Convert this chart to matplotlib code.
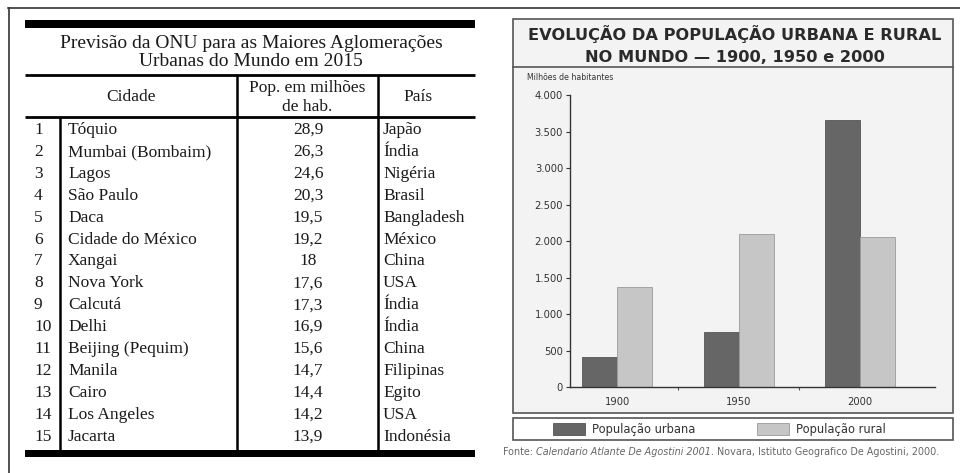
import numpy as np
import matplotlib.pyplot as plt
from matplotlib.patches import Rectangle, Patch

W, H = 960, 473

### dados da tabela
posicao = list(range(1, 16))
cidades = ["Tóquio", "Mumbai (Bombaim)", "Lagos", "São Paulo", "Daca",
           "Cidade do México", "Xangai", "Nova York", "Calcutá", "Delhi",
           "Beijing (Pequim)", "Manila", "Cairo", "Los Angeles", "Jacarta"]
populacao = [28.9, 26.3, 24.6, 20.3, 19.5, 19.2, 18, 17.6, 17.3, 16.9,
             15.6, 14.7, 14.4, 14.2, 13.9]
paises = ["Japão", "Índia", "Nigéria", "Brasil", "Bangladesh", "México",
          "China", "USA", "Índia", "Índia", "China", "Filipinas", "Egito",
          "USA", "Indonésia"]

### dados do grafico
anos = ["1900", "1950", "2000"]
urbana = [410, 750, 3660]
rural = [1370, 2090, 2060]
yticks = [0, 500, 1000, 1500, 2000, 2500, 3000, 3500, 4000]
ytick_labels = ["0", "500", "1.000", "1.500", "2.000", "2.500", "3.000", "3.500", "4.000"]
series = ["População urbana", "População rural"]

SERIF = "Liberation Serif"
SANS = "DejaVu Sans"
COR_URB = "#666666"
COR_RUR = "#c6c6c6"


def px(x, y):
    # pixel -> fracao da figura
    return x / W, 1 - y / H


def draw_table(bg):
    k = dict(color="black", solid_capstyle="butt")
    # moldura externa
    bg.plot([8, 960], [8, 8], color="#333333", lw=1.2)
    bg.plot([9, 9], [8, 473], color="#333333", lw=1.2)

    bg.add_patch(Rectangle((25, 20), 450, 8, color="black", lw=0))
    bg.add_patch(Rectangle((25, 450), 450, 7, color="black", lw=0))
    bg.plot([25, 475], [75, 75], lw=2.0, **k)
    bg.plot([25, 475], [117, 117], lw=2.0, **k)
    bg.plot([60, 60], [117, 450], lw=1.8, **k)
    bg.plot([237, 237], [75, 450], lw=1.8, **k)
    bg.plot([378, 378], [75, 450], lw=1.8, **k)

    tk = dict(family=SERIF, color="#1a1a1a", fontsize=12.5)
    tt = dict(tk, fontsize=14)
    bg.text(251, 43, "Previsão da ONU para as Maiores Aglomerações", ha="center", va="center", **tt)
    bg.text(251, 62, "Urbanas do Mundo em 2015", ha="center", va="center", **tt)
    bg.text(131, 97, "Cidade", ha="center", va="center", **tk)
    bg.text(307, 88, "Pop. em milhões", ha="center", va="center", **tk)
    bg.text(307, 107, "de hab.", ha="center", va="center", **tk)
    bg.text(418, 97, "País", ha="center", va="center", **tk)

    for i, (n, c, p, pais) in enumerate(zip(posicao, cidades, populacao, paises)):
        y = 130 + i * 21.9
        bg.text(34, y, str(n), ha="left", va="center", **tk)
        bg.text(68, y, c, ha="left", va="center", **tk)
        bg.text(308, y, f"{p:g}".replace(".", ","), ha="center", va="center", **tk)
        bg.text(383, y, pais, ha="left", va="center", **tk)


def draw_chart(fig, bg):
    # painel
    bg.add_patch(Rectangle((513, 19), 440, 394, facecolor="#f3f3f3", edgecolor="#555555", lw=1.2))
    bg.plot([513, 953], [67, 67], color="#555555", lw=1.2)
    tt = dict(family=SANS, fontweight="bold", fontsize=11.7, color="#2a2a2a", ha="center", va="center")
    bg.text(735, 34, "EVOLUÇÃO DA POPULAÇÃO URBANA E RURAL", **tt)
    bg.text(735, 57, "NO MUNDO — 1900, 1950 e 2000", **tt)
    bg.text(527, 77, "Milhões de habitantes", family=SANS, fontsize=5.6, color="#333333",
            ha="left", va="center")

    x0, y0 = px(570, 387)
    x1, y1 = px(935, 95)
    ax = fig.add_axes([x0, y0, x1 - x0, y1 - y0])
    ax.set_facecolor("none")

    x = np.arange(len(anos))
    w = 0.288
    ax.bar(x - w / 2, urbana, w, color=COR_URB, edgecolor="#555555", lw=0.6)
    ax.bar(x + w / 2, rural, w, color=COR_RUR, edgecolor="#9a9a9a", lw=0.6)

    ax.set_xlim(-0.387, 2.617)
    ax.set_ylim(0, 4000)
    ax.set_yticks(yticks)
    ax.set_yticklabels(ytick_labels)
    ax.set_xticks(x)
    ax.set_xticklabels(anos)
    ax.set_xticks([0.5, 1.5], minor=True)
    for s in ["top", "right"]:
        ax.spines[s].set_visible(False)
    for s in ["left", "bottom"]:
        ax.spines[s].set_color("#333333")
        ax.spines[s].set_linewidth(1.0)
    ax.tick_params(axis="y", length=3, width=0.8, color="#333333", labelsize=7.2,
                   labelcolor="#333333", pad=2)
    ax.tick_params(axis="x", which="major", length=0, labelsize=7.2, labelcolor="#333333", pad=7)
    ax.tick_params(axis="x", which="minor", length=2, width=0.8, color="#555555")
    for lab in ax.get_xticklabels() + ax.get_yticklabels():
        lab.set_family(SANS)

    # legenda
    bg.add_patch(Rectangle((513, 418), 440, 22, facecolor="white", edgecolor="#555555", lw=1.2))
    handles = [Patch(facecolor=COR_URB, edgecolor="#555555", lw=0.6),
               Patch(facecolor=COR_RUR, edgecolor="#9a9a9a", lw=0.6)]
    fs = 8.3
    em = fs * 100 / 72
    leg = fig.legend(handles, series, ncol=2, loc="center left", bbox_to_anchor=px(553, 429),
                     frameon=False, borderpad=0, borderaxespad=0,
                     handlelength=32 / em, handleheight=14 / em, handletextpad=7 / em,
                     columnspacing=62 / em, prop=dict(family=SANS, size=fs))
    for t in leg.get_texts():
        t.set_color("#333333")

    # fonte
    sk = dict(family=SANS, fontsize=6.9, color="#666666", va="center")
    t1 = bg.text(503, 452, "Fonte: ", ha="left", **sk)
    t2 = bg.annotate("Calendario Atlante De Agostini 2001", xy=(1, 0.5), xycoords=t1,
                     ha="left", style="italic", **sk)
    bg.annotate(". Novara, Istituto Geografico De Agostini, 2000.", xy=(1, 0.5), xycoords=t2,
                ha="left", **sk)


def main():
    fig = plt.figure(figsize=(W / 100, H / 100), dpi=100)
    bg = fig.add_axes([0, 0, 1, 1])
    bg.set_xlim(0, W)
    bg.set_ylim(H, 0)
    bg.axis("off")

    draw_table(bg)
    draw_chart(fig, bg)

    fig.savefig("out.png", dpi=100, facecolor="white")


if __name__ == "__main__":
    main()
